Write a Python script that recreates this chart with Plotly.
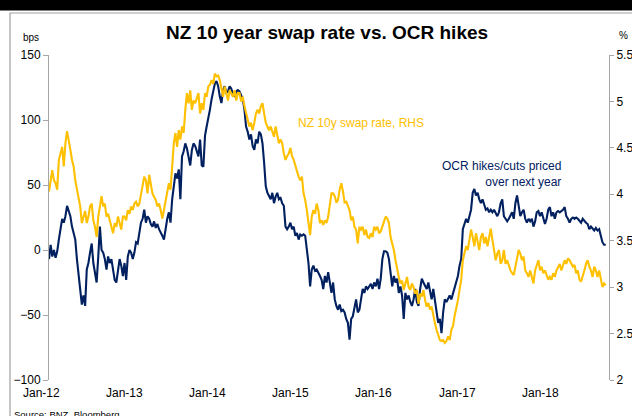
import pandas as pd
import plotly.graph_objects as go

# ---------------- data (weekly) ----------------
ocr_bps = [
    # 2012
    -7, 4, -5, 0, -6, -1, 8, 16, 24, 21,
    26, 34, 30, 26, 18, 13, 8, -7, -20, -33,
    -42, -35, -43, -15, -10, -2, 5, -10, -17, -25,
    -5, 18, 0, -2, -7, -15, -5, -10, -7, -17,
    -23, -25, -15, -7, -12, -20, -10, -23, -5, 0,
    -2, -7, -2, 6, 5, 13, 21, 24, 31,
    # 2013
    21, 26, 24, 20, 18, 22, 17, 20, 16, 14,
    11, 8, 18, 24, 29, 21, 39, 50, 59, 55,
    62, 39, 72, 76, 82, 78, 72, 65, 77, 82,
    80, 75, 72, 85, 65, 64, 88, 95, 101, 108,
    116, 121, 128, 130, 126, 118, 113, 123, 126, 121,
    122, 126, 124, 120, 118, 122, 123,
    # 2014
    122, 119, 116, 108, 95, 91, 85, 89, 80, 77,
    85, 82, 91, 89, 82, 67, 49, 44, 41, 39,
    44, 36, 41, 44, 39, 40, 36, 34, 18, 16,
    18, 21, 16, 18, 11, 13, 8, 12, 11, 12,
    11, 0, -10, -28, -15, -12, -16, -15, -17, -20,
    -23, -30, -20, -25, -17, -25, -33,
    # 2015-16
    -25, -38, -43, -46, -42, -47, -46, -48, -53, -56,
    -69, -53, -51, -43, -38, -48, -46, -38, -30, -33,
    -28, -30, -28, -26, -30, -25, -28, -22, -30, -22,
    -7, -1, -1, -2, -7, -17, -28, -20, -25, -22,
    -33, -28, -35, -53, -33, -38, -35, -40, -43, -38,
    -30, -40, -43, -30, -22, -25, -28, -30,
    # 2016-17
    -25, -33, -38, -30, -40, -48, -56, -53, -64, -48,
    -38, -40, -38, -35, -38, -33, -28, -25, -20, -12,
    -7, 16, 21, 24, 21, 26, 31, 44, 47, 42,
    44, 39, 36, 39, 34, 31, 32, 29, 31, 29,
    31, 29, 26, 29, 36, 39, 26, 24, 22, 24,
    26, 29, 24, 36, 42, 34, 26, 29,
    # 2017-18
    31, 24, 21, 24, 22, 24, 18, 22, 29, 30,
    26, 29, 24, 20, 24, 31, 33, 26, 29, 24,
    29, 30, 29, 30, 31, 33, 26, 24, 21, 24,
    25, 24, 25, 24, 22, 21, 24, 22, 21, 20,
    16, 18, 16, 15, 17, 15, 16, 10, 6, 4, 4,
]

swap_pct = [
    4.03, 4.17, 4.26, 4.15, 4.12, 4.05, 4.37, 4.44, 4.51, 4.30,
    4.55, 4.68, 4.55, 4.48, 4.37, 4.30, 4.15, 4.05, 3.94, 3.87,
    3.69, 3.76, 3.82, 3.69, 3.76, 3.87, 3.90, 3.72, 3.65, 3.54,
    3.76, 3.87, 3.98, 3.87, 3.90, 3.76, 3.79, 3.72, 3.65, 3.58,
    3.69, 3.65, 3.76, 3.69, 3.62, 3.76, 3.76, 3.72, 3.83, 3.79,
    3.87, 3.83, 3.90, 3.92, 3.87, 3.90, 4.01, 4.08, 4.19,
    4.15, 4.01, 4.21, 4.12, 4.01, 3.97, 3.94, 3.87, 3.90, 3.83,
    3.74, 3.83, 3.94, 4.01, 4.12, 4.05, 4.26, 4.55, 4.66, 4.51,
    4.69, 4.59, 4.73, 4.66, 4.91, 5.09, 4.98, 5.12, 4.91, 5.01,
    4.98, 5.05, 5.09, 4.87, 4.98, 4.91, 5.09, 5.05, 5.16, 5.18,
    5.23, 5.19, 5.30, 5.27, 5.28, 5.23, 5.12, 5.05, 5.16, 5.09,
    5.01, 5.12, 5.09, 5.05, 5.12, 5.01, 5.09,
    5.09, 5.00, 5.05, 4.95, 4.87, 4.78, 4.73, 4.77, 4.69, 4.77,
    4.87, 4.91, 4.87, 4.95, 4.98, 4.87, 4.77, 4.73, 4.69, 4.73,
    4.68, 4.62, 4.73, 4.62, 4.55, 4.59, 4.55, 4.44, 4.37, 4.41,
    4.44, 4.50, 4.41, 4.37, 4.30, 4.23, 4.19, 4.15, 4.19, 4.01,
    3.94, 3.83, 3.72, 3.56, 3.76, 3.83, 3.79, 3.90, 3.83, 3.69,
    3.72, 3.67, 3.72, 3.69, 3.76, 3.90, 4.01,
    4.01, 3.98, 3.91, 3.94, 4.05, 4.12, 4.03, 3.91, 3.92, 3.87,
    3.83, 3.72, 3.76, 3.65, 3.62, 3.47, 3.65, 3.62, 3.65, 3.56,
    3.62, 3.54, 3.53, 3.58, 3.54, 3.65, 3.62, 3.65, 3.58, 3.60,
    3.65, 3.72, 3.76, 3.74, 3.69, 3.54, 3.47, 3.40, 3.29, 3.18,
    3.11, 3.04, 3.07, 2.97, 3.04, 3.11, 3.00, 2.97, 3.04, 3.00,
    2.93, 2.97, 2.82, 2.93, 2.90, 2.97, 2.86, 2.79,
    2.83, 2.76, 2.79, 2.69, 2.61, 2.54, 2.47, 2.43, 2.42, 2.43,
    2.40, 2.42, 2.47, 2.43, 2.54, 2.58, 2.69, 2.76, 2.86, 2.97,
    3.08, 3.29, 3.36, 3.44, 3.40, 3.54, 3.62, 3.54, 3.44, 3.58,
    3.47, 3.40, 3.54, 3.58, 3.47, 3.54, 3.44, 3.54, 3.63, 3.51,
    3.40, 3.29, 3.36, 3.40, 3.25, 3.29, 3.40, 3.25, 3.29, 3.22,
    3.18, 3.15, 3.13, 3.22, 3.33, 3.40, 3.36, 3.29,
    3.33, 3.18, 3.15, 3.11, 3.18, 3.11, 3.04, 3.18, 3.25, 3.29,
    3.18, 3.22, 3.15, 3.18, 3.13, 3.08, 3.11, 3.08, 3.15, 3.11,
    3.18, 3.22, 3.25, 3.18, 3.24, 3.29, 3.25, 3.31, 3.29, 3.25,
    3.22, 3.24, 3.15, 3.18, 3.08, 3.06, 3.11, 3.18, 3.25, 3.29,
    3.22, 3.18, 3.11, 3.22, 3.18, 3.11, 3.18, 3.08, 3.00, 3.04, 3.02,
]

dates = pd.date_range("2012-01-01", periods=len(ocr_bps), freq="7D")

tick_dates = ["2012-01-01", "2013-01-01", "2014-01-01", "2015-01-01",
              "2016-01-01", "2017-01-01", "2018-01-01"]
tick_labels = ["Jan-12", "Jan-13", "Jan-14", "Jan-15", "Jan-16", "Jan-17", "Jan-18"]
left_ticks = [-100, -50, 0, 50, 100, 150]
right_ticks = [2, 2.5, 3, 3.5, 4, 4.5, 5, 5.5]
x_range = ["2012-01-01", "2018-07-15"]

# ---------------- layout helpers (pixel -> paper) ----------------
W, H = 632, 416
L, R, T, B = 49, 609, 55, 380


def px(x):
    return (x - L) / (R - L)


def py(y):
    return (B - y) / (B - T)


FONT = "Arial, Liberation Sans, sans-serif"
YELLOW = "#FFC000"
NAVY = "#002060"
AXIS = "#A6A6A6"

fig = go.Figure()
fig.add_trace(go.Scatter(x=dates, y=swap_pct, mode="lines", yaxis="y2",
                         line=dict(color=YELLOW, width=2.1), showlegend=False))
fig.add_trace(go.Scatter(x=dates, y=ocr_bps, mode="lines", yaxis="y",
                         line=dict(color=NAVY, width=2.1), showlegend=False))

fig.update_layout(
    width=W, height=H,
    margin=dict(l=L, r=W - R, t=T, b=H - B, pad=0, autoexpand=False),
    paper_bgcolor="white", plot_bgcolor="white",
    font=dict(family=FONT, size=12, color="#000000"),
    xaxis=dict(type="date", range=x_range, showticklabels=False,
               showline=False, ticks="", showgrid=False, zeroline=False,
               automargin=False),
    xaxis2=dict(type="date", range=x_range, overlaying="x", anchor="free",
                position=py(250.7), tickvals=tick_dates, showticklabels=False,
                showline=True, linecolor=AXIS, linewidth=1, ticks="outside",
                ticklen=4, tickcolor=AXIS, showgrid=False, zeroline=False),
    yaxis=dict(range=[-100, 150], tickvals=left_ticks, showline=True, linecolor=AXIS,
               linewidth=1, ticks="outside", ticklen=5, tickcolor=AXIS,
               showgrid=False, zeroline=False, tickfont=dict(size=12), automargin=False),
    yaxis2=dict(range=[2, 5.5], tickvals=right_ticks, overlaying="y", side="right",
                showline=True, linecolor=AXIS, linewidth=1, ticks="outside", ticklen=4,
                tickcolor=AXIS, showgrid=False, zeroline=False, tickfont=dict(size=12),
                automargin=False),
)

shapes = [
    dict(type="rect", xref="paper", yref="paper", x0=px(-5), x1=px(640),
         y0=py(10.5), y1=py(-5), fillcolor="black", line=dict(width=0), layer="above"),
    dict(type="rect", xref="paper", yref="paper", x0=px(10), x1=px(700),
         y0=py(500), y1=py(13), fillcolor="rgba(0,0,0,0)",
         line=dict(color="#A0A0A0", width=1.2), layer="below"),
]
fig.update_layout(shapes=shapes)

ann = [
    dict(text="<b>NZ 10 year swap rate vs. OCR hikes</b>", x=px(327), y=py(32),
         font=dict(size=19, color="#000000"), xanchor="center", yanchor="middle"),
    dict(text="bps", x=px(21), y=py(37), font=dict(size=10), xanchor="left", yanchor="middle"),
    dict(text="%", x=px(617), y=py(36), font=dict(size=10), xanchor="left", yanchor="middle"),
    dict(text="NZ 10y swap rate, RHS", x=px(296), y=py(123), font=dict(size=12, color=YELLOW),
         xanchor="left", yanchor="middle"),
    dict(text="OCR hikes/cuts priced<br>over next year", x=px(563), y=py(174),
         font=dict(size=12, color=NAVY), xanchor="right", yanchor="middle", align="right"),
    dict(text="Source: BNZ, Bloomberg", x=px(12), y=py(407), font=dict(size=9.5, color="#000000"),
         xanchor="left", yanchor="top"),
]
# category labels along the bottom, placed where the reference prints them
for i, lab in enumerate(tick_labels):
    ann.append(dict(text=lab, x=px(41 + 83.2 * i), y=py(393), font=dict(size=12),
                    xanchor="center", yanchor="middle"))
for a in ann:
    a.update(xref="paper", yref="paper", showarrow=False)
fig.update_layout(annotations=ann)

fig.write_html("out.html")
